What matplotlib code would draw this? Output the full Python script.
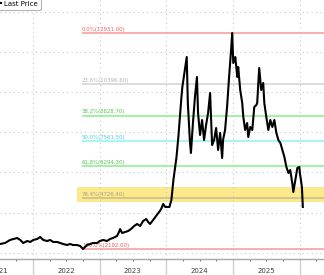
import numpy as np
import pandas as pd
import matplotlib
matplotlib.use('Agg')
import matplotlib.pyplot as plt
import matplotlib.dates as mdates
import matplotlib.transforms as mtransforms

# ---- price series ----
dates = [
    '2021-07-03', '2021-07-31', '2021-08-27', '2021-10-05', '2021-10-22', '2021-11-07',
    '2021-11-29', '2021-12-16', '2022-01-01', '2022-01-23', '2022-02-08', '2022-02-25',
    '2022-03-18', '2022-04-04', '2022-04-20', '2022-05-12', '2022-05-28', '2022-06-14',
    '2022-07-05', '2022-07-22', '2022-08-07', '2022-08-29', '2022-09-15', '2022-10-01',
    '2022-10-23', '2022-11-08', '2022-11-25', '2022-12-17', '2023-01-01', '2023-01-19',
    '2023-02-09', '2023-02-26', '2023-03-14', '2023-04-05', '2023-04-16', '2023-04-22',
    '2023-05-03', '2023-05-19', '2023-06-05', '2023-06-21', '2023-07-08', '2023-07-24',
    '2023-08-10', '2023-08-26', '2023-09-12', '2023-09-23', '2023-10-03', '2023-10-20',
    '2023-11-05', '2023-11-22', '2023-12-03', '2023-12-14', '2023-12-25', '2024-01-01',
    '2024-01-17', '2024-01-28', '2024-02-08', '2024-02-14', '2024-02-25', '2024-03-07',
    '2024-03-12', '2024-03-23', '2024-03-28', '2024-04-08', '2024-04-21', '2024-04-27',
    '2024-05-08', '2024-05-14', '2024-05-25', '2024-06-05', '2024-06-16', '2024-06-22',
    '2024-07-03', '2024-07-14', '2024-07-25', '2024-08-05', '2024-08-16', '2024-08-27',
    '2024-09-02', '2024-09-07', '2024-09-18', '2024-09-29', '2024-10-10', '2024-10-21',
    '2024-11-01', '2024-11-06', '2024-11-17', '2024-11-28', '2024-12-09', '2024-12-20',
    '2024-12-26', '2025-01-01', '2025-01-12', '2025-01-23', '2025-01-28', '2025-02-08',
    '2025-02-19', '2025-02-25', '2025-03-07', '2025-03-18', '2025-03-24', '2025-04-04',
    '2025-04-15', '2025-04-26', '2025-05-07', '2025-05-12', '2025-05-23', '2025-06-03',
    '2025-06-14', '2025-06-20', '2025-07-01', '2025-07-12', '2025-07-23', '2025-08-03',
    '2025-08-14', '2025-08-25', '2025-09-05', '2025-09-16', '2025-09-27', '2025-10-08',
    '2025-10-19', '2025-10-30', '2025-11-09', '2025-11-20', '2025-11-26', '2025-12-07',
    '2025-12-18', '2025-12-29', '2026-01-01', '2026-01-12', '2026-01-17',
]
prices = [
    2440, 2490, 2640, 2738, 2640, 2490,
    2589, 2540, 2640, 2689, 2788, 2640,
    2589, 2640, 2540, 2540, 2490, 2440,
    2390, 2440, 2390, 2390, 2341, 2192,
    2390, 2440, 2490, 2490, 2589, 2640,
    2589, 2689, 2738, 2838, 3037, 3186,
    2987, 3037, 3086, 3186, 3335, 3435,
    3335, 3584, 3683, 3534, 3435, 3633,
    3832, 4031, 4180, 4429, 4280, 4280,
    4280, 4628, 5622, 6020, 6766, 7860,
    8456, 9749, 10246, 10942, 11738, 9451,
    7611, 6965, 8456, 9749, 10743, 8953,
    7860, 8605, 7611, 8357, 8953, 9948,
    8605, 7362, 7611, 8208, 7114, 7959,
    6716, 7611, 8108, 9252, 10743, 12086,
    12931, 11439, 11738, 10743, 11240, 10097,
    9451, 8755, 8108, 8456, 7760, 8257,
    8108, 9252, 9351, 9451, 11191, 10097,
    10445, 9451, 8755, 8108, 8605, 8257,
    8605, 7959, 7611, 7462, 7114, 6766,
    6268, 5970, 6119, 5473, 5026, 5622,
    6219, 6268, 5970, 5274, 4280,
]

# ---- Fibonacci retracement ----
fib_high = 12931.00
fib_low = 2192.00
fib_ratios = [0.0, 0.236, 0.382, 0.5, 0.618, 0.764, 1.0]
fib_line_colors = ['#f7a8a8', '#d9d9d9', '#9cf09c', '#9ef5f5', '#9cf09c', '#cfc38a', '#f7a8a8']
fib_text_colors = ['#f05a5a', '#b4b4b4', '#4cc94c', '#3fd0dc', '#4cc94c', '#a8a08a', '#f05a5a']
fib_start = '2022-09-25'
band_start = '2022-08-29'
band_top = 5274
band_bottom = 4528

years = [2021, 2022, 2023, 2024, 2025]

x = pd.to_datetime(dates)

fig = plt.figure(figsize=(3.24, 2.75), dpi=100)
ax = fig.add_axes([0, 16 / 275, 1, 259 / 275])

ax.set_xlim(pd.Timestamp('2021-07-03'), pd.Timestamp('2026-05-13'))
ax.set_ylim(1694, 14572)

# grid
ax.set_yticks(np.arange(2000, 14001, 2000))
ax.tick_params(axis='y', length=0, labelleft=False)
ax.xaxis.set_major_locator(mdates.YearLocator())
ax.xaxis.set_minor_locator(mdates.MonthLocator(bymonth=[4, 7, 10]))
ax.xaxis.set_major_formatter(plt.NullFormatter())
ax.grid(True, which='major', color='#c8c8c8', linestyle=(0, (1, 3)), linewidth=0.8)
ax.tick_params(axis='x', which='major', length=12, width=1, color='#d0d0d0')
ax.tick_params(axis='x', which='minor', length=1.5, width=0.8, color='#707070')

for s in ['left', 'top', 'right']:
    ax.spines[s].set_visible(False)
ax.spines['bottom'].set_color('#a8a8a8')
ax.spines['bottom'].set_linewidth(1.0)

# year labels centred mid-year
trans = mtransforms.blended_transform_factory(ax.transData, ax.transAxes)
for yr in years:
    ax.text(pd.Timestamp(f'{yr}-07-01'), -0.046, str(yr), transform=trans,
            ha='center', va='center', fontsize=5, color='#404040', clip_on=False)

# yellow band around 76.4%
xs = pd.Timestamp(band_start)
ax.fill_between([xs, pd.Timestamp('2026-12-31')], band_bottom, band_top,
                color='#fbe98c', linewidth=0, zorder=1)

# fib lines + labels
for r, lc, tc in zip(fib_ratios, fib_line_colors, fib_text_colors):
    lvl = fib_high - r * (fib_high - fib_low)
    ax.hlines(lvl, pd.Timestamp(fib_start), pd.Timestamp('2026-12-31'),
              color=lc, linewidth=1.3, zorder=2)
    ax.text(pd.Timestamp(fib_start), lvl + 60, f'{r * 100:.1f}%({lvl:.2f})',
            fontsize=3.9, color=tc, ha='left', va='bottom', zorder=3)

# price
ax.plot(x, prices, color='black', linewidth=1.5, label='Last Price', zorder=4)

leg = ax.legend(loc='lower right', bbox_to_anchor=(44 / 324, 1 - 13 / 275),
                bbox_transform=fig.transFigure, fontsize=5, handlelength=0.8,
                handletextpad=0.5, borderpad=0.4, frameon=True, fancybox=True)
leg.get_frame().set_edgecolor('#a0a0a0')
leg.get_frame().set_linewidth(0.8)

fig.savefig('out.png', dpi=100)
